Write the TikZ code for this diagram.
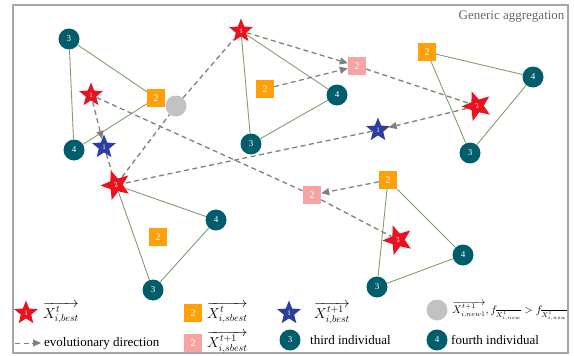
\documentclass[tikz,border=0pt]{standalone}
\usepackage[svgnames]{xcolor}
\usepackage{fontspec}
\setmainfont{Liberation Serif}
\usepackage{tikz}
\usetikzlibrary{
  shapes.geometric,
  arrows.meta
}
\definecolor{bestRed}{HTML}{E8131F}
\definecolor{bestBlue}{HTML}{2E3E9E}
\definecolor{individual}{HTML}{005E6C}
\definecolor{sbestOrange}{HTML}{FFA00A}
\definecolor{sbestPink}{HTML}{F5A3A3}
\definecolor{link}{HTML}{7FA06E}
\colorlet{newPos}{LightGray!80!Gray}
\colorlet{evolution}{Gray}
\colorlet{frame}{Gray!70}

\begin{document}
\begin{tikzpicture}[
  x=1pt, y=-1pt,
  every node/.style={font=\fontsize{13}{15}\selectfont},
  key/.style={anchor=west, inner sep=1pt},
  key math/.style={key, font=\fontsize{14}{16}\selectfont},
  individual/.style={circle, fill=individual, text=white, minimum size=21pt,
    inner sep=0pt, font=\fontsize{9}{9}\selectfont},
  sbest/.style={rectangle, fill=sbestOrange, text=white, minimum size=18pt,
    inner sep=0pt, font=\fontsize{10}{10}\selectfont},
  sbest new/.style={sbest, fill=sbestPink},
  best/.style={star, star points=5, star point ratio=2.3, fill=bestRed,
    text=white, minimum size=25pt, inner sep=0pt, font=\fontsize{7}{7}\selectfont},
  best big/.style={best, minimum size=31pt, rotate=20},
  best new/.style={best, fill=bestBlue},
  new position/.style={circle, fill=newPos, minimum size=21pt, inner sep=0pt},
  neighbour/.style={draw=link, line width=0.9pt},
  evolve/.style={draw=evolution, line width=1.3pt, dash pattern=on 5pt off 3.5pt},
  evolve arrow/.style={evolve, -{Triangle[length=8pt,width=7pt]}}
]
\useasboundingbox (0,0) rectangle (574,356);
\draw[frame, line width=2.5pt] (13,5) rectangle (568,353);
\node[anchor=north east, text=Gray!80!black] (title) at (568,7) {Generic aggregation};

\node[individual] (thirdA) at (69,39) {3};
\node[individual] (fourthA) at (74,150) {4};
\node[sbest] (sbestA) at (156,98) {2};
\node[new position] (newA) at (176,106) {};
\node[best] (bestA) at (91,95) {1};
\node[best new] (bestNewA) at (104,147) {1};
\node[best big] (bestB) at (116,185) {2};

\node[best] (bestC) at (241,31) {1};
\node[individual] (thirdC) at (251,144) {3};
\node[individual] (fourthC) at (337,95) {4};
\node[sbest] (sbestC) at (265,89) {2};
\node[sbest new] (sbestNewC) at (357,66) {2};

\node[sbest] (sbestD) at (427,52) {2};
\node[individual] (fourthD) at (533,77) {4};
\node[individual] (thirdD) at (470,153) {3};
\node[best big] (bestD) at (477,106) {2};
\node[best new] (bestNewD) at (378,130) {1};

\node[individual] (fourthB) at (216,220) {4};
\node[individual] (thirdB) at (153,290) {3};
\node[sbest] (sbestB) at (158,237) {2};

\node[sbest] (sbestE) at (388,180) {2};
\node[sbest new] (sbestNewE) at (312,195) {2};
\node[individual] (fourthE) at (463,255) {4};
\node[individual] (thirdE) at (377,287) {3};
\node[best big] (bestE) at (398,240) {2};

\draw[neighbour] (thirdA) -- (fourthA) (thirdA) -- (sbestA) (sbestA) -- (fourthA);
\draw[neighbour] (bestC) -- (thirdC) (bestC) -- (fourthC) (thirdC) -- (fourthC);
\draw[neighbour] (sbestD) -- (fourthD) (fourthD) -- (thirdD) (thirdD) -- (sbestD);
\draw[neighbour] (bestB) -- (fourthB) (fourthB) -- (thirdB) (thirdB) -- (bestB);
\draw[neighbour] (sbestE) -- (fourthE) (fourthE) -- (thirdE) (thirdE) -- (sbestE);

\draw[evolve arrow] (bestA) -- (bestNewA);
\draw[evolve] (bestNewA) -- (bestB);
\draw[evolve] (bestB) -- (newA);
\draw[evolve] (newA) -- (bestC);
\draw[evolve arrow] (bestC) -- (sbestNewC);
\draw[evolve arrow] (sbestC) -- (sbestNewC);
\draw[evolve] (sbestNewC) -- (bestD);
\draw[evolve arrow] (bestD) -- (bestNewD);
\draw[evolve] (bestNewD) -- (bestB);
\draw[evolve] (bestA) -- (sbestNewE);
\draw[evolve arrow] (sbestE) -- (sbestNewE);
\draw[evolve] (sbestNewE) -- (bestE);

\node[best] (keyBest) at (26,313) {1};
\node[key math] (keyBestText) at (42,313) {$\overrightarrow{X^{t}_{i,best}}$};
\coordinate (keyEvolve) at (15,343);
\node[key] (keyEvolveText) at (43,343) {evolutionary direction};
\draw[evolve arrow, line width=1pt] (keyEvolve) -- ([xshift=-2pt]keyEvolveText.west);

\node[sbest] (keySbest) at (193,313) {2};
\node[key math] (keySbestText) at (206,313) {$\overrightarrow{X^{t}_{i,sbest}}$};
\node[sbest new] (keySbestNew) at (193,343) {2};
\node[key math] (keySbestNewText) at (206,342) {$\overrightarrow{X^{t+1}_{i,sbest}}$};

\node[best new] (keyBestNew) at (289,313) {1};
\node[key math] (keyBestNewText) at (313,313) {$\overrightarrow{X^{t+1}_{i,best}}$};
\node[individual] (keyThird) at (290,340) {3};
\node[key] (keyThirdText) at (309,340) {third individual};

\node[new position] (keyNew) at (437,310) {};
\node[key, font=\fontsize{10.5}{12}\selectfont] (keyNewText) at (451,311)
  {$\overrightarrow{X^{t+1}_{i,new1}},
  f_{\overline{X^{1}_{i,new}}} > f_{\overline{X^{1}_{i,new}}}$};
\node[individual] (keyFourth) at (437,340) {4};
\node[key] (keyFourthText) at (450,340) {fourth individual};
\end{tikzpicture}
\end{document}
